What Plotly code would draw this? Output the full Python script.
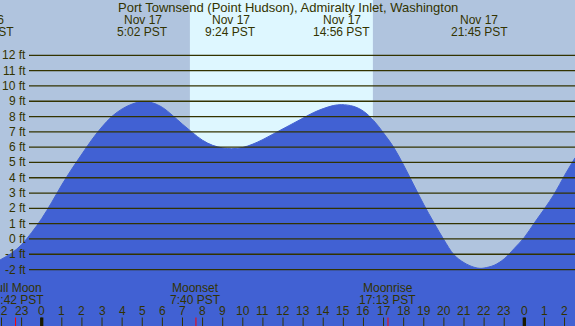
import plotly.graph_objects as go

# ---------------- data ----------------
tide_hours = [-2.07, -1.5, -1.0, -0.5, 0.0, 0.5, 1.0, 1.5, 2.0, 2.5, 3.0, 3.5, 4.0, 4.5, 5.03,
              5.5, 6.0, 6.5, 7.0, 7.5, 8.0, 8.5, 9.0, 9.45, 10.0, 10.5, 11.0, 11.5, 12.0, 12.5,
              13.0, 13.5, 14.0, 14.5, 14.92, 15.5, 16.0, 16.5, 17.0, 17.5, 18.0, 18.5, 19.0,
              19.5, 20.0, 20.5, 21.0, 21.5, 21.79, 22.0, 22.5, 23.0, 23.5, 24.0, 24.5, 25.0,
              25.5, 26.0, 26.52]
tide_feet = [-1.37, -0.93, -0.37, 0.42, 1.33, 2.4, 3.54, 4.58, 5.55, 6.5, 7.33, 8.02, 8.5, 8.82, 8.98,
             8.9, 8.6, 8.08, 7.5, 6.95, 6.45, 6.12, 5.95, 5.9, 5.98, 6.2, 6.5, 6.85, 7.2, 7.55,
             7.9, 8.25, 8.52, 8.72, 8.78, 8.67, 8.35, 7.75, 6.92, 6.0, 4.82, 3.53, 2.25,
             1.07, -0.05, -1.03, -1.55, -1.85, -1.92, -1.9, -1.72, -1.3, -0.62, 0.1, 1.05, 1.97,
             2.96, 4.15, 5.3]

ext_hours = [-2.80, 5.03, 9.40, 14.93, 21.75]
ext_dates = ["Nov 16", "Nov 17", "Nov 17", "Nov 17", "Nov 17"]
ext_times = ["21:12 PST", "5:02 PST", "9:24 PST", "14:56 PST", "21:45 PST"]

moon_hours = [-1.30, 7.67, 17.22]
moon_names = ["Full Moon", "Moonset", "Moonrise"]
moon_times = ["22:42 PST", "7:40 PST", "17:13 PST"]

sunrise_hour = 7.37
sunset_hour = 16.47

ft_levels = list(range(-2, 13))
ft_labels = [f"{v} ft" for v in ft_levels]
hour_ticks = list(range(-2, 27))
hour_labels = [str(h % 24) for h in hour_ticks]
midnight_hours = [0, 24]

title = "Port Townsend (Point Hudson), Admiralty Inlet, Washington"

# ---------------- layout constants ----------------
W, H = 575, 326
X0, X1 = -2.074, 26.52
Y0, Y1 = -5.69, 15.62
NIGHT = "#B0C4DE"
DAY = "#DEF7FF"
WATER = "#4161D3"
INK = "#333300"
FONT = "Liberation Sans, Arial, sans-serif"


def px(h):
    return (h - X0) / (X1 - X0)


def py(pix_from_top):
    return 1 - pix_from_top / H


fig = go.Figure()
fig.add_trace(go.Scatter(x=[X0 - 1, X1 + 1], y=[Y0 - 5, Y0 - 5], mode="lines",
                         line=dict(width=0), hoverinfo="skip", showlegend=False))
fig.add_trace(go.Scatter(x=tide_hours, y=tide_feet, mode="lines", fill="tonexty",
                         fillcolor=WATER, line=dict(color=WATER, width=1, shape="spline", smoothing=1.0),
                         hoverinfo="skip", showlegend=False))

shapes = []
# daylight band
shapes.append(dict(type="rect", xref="x", yref="paper", x0=sunrise_hour, x1=sunset_hour,
                   y0=0, y1=1, fillcolor=DAY, line=dict(width=0), layer="below"))
# level lines
for v in ft_levels:
    shapes.append(dict(type="line", xref="paper", yref="y", x0=29 / W, x1=1, y0=v, y1=v,
                       line=dict(color=INK, width=1.3), layer="above"))
# hour ticks
for h in hour_ticks:
    shapes.append(dict(type="line", xref="x", yref="paper", x0=h, x1=h, y0=0, y1=8.5 / H,
                       line=dict(color=INK, width=1), layer="above"))
for h in midnight_hours:
    shapes.append(dict(type="line", xref="x", yref="paper", x0=h, x1=h, y0=0, y1=8.5 / H,
                       line=dict(color="#1a1a00", width=3.3), layer="above"))
for h in moon_hours:
    shapes.append(dict(type="line", xref="x", yref="paper", x0=h, x1=h, y0=0, y1=8.5 / H,
                       line=dict(color="#FF0000", width=1), layer="above"))

ann = []
tf = dict(family=FONT, size=12, color=INK)
ann.append(dict(text=title, xref="paper", yref="paper", x=0.5, y=py(7.5), xanchor="center",
                yanchor="middle", showarrow=False, font=dict(family=FONT, size=13, color=INK)))
for h, d, t in zip(ext_hours, ext_dates, ext_times):
    ann.append(dict(text=d, xref="paper", yref="paper", x=px(h), y=py(20), xanchor="center",
                    yanchor="middle", showarrow=False, font=tf))
    ann.append(dict(text=t, xref="paper", yref="paper", x=px(h), y=py(32), xanchor="center",
                    yanchor="middle", showarrow=False, font=tf))
for h, n, t in zip(moon_hours, moon_names, moon_times):
    ann.append(dict(text=n, xref="paper", yref="paper", x=px(h), y=py(288), xanchor="center",
                    yanchor="middle", showarrow=False, font=tf))
    ann.append(dict(text=t, xref="paper", yref="paper", x=px(h), y=py(299.5), xanchor="center",
                    yanchor="middle", showarrow=False, font=tf))
for h, lab in zip(hour_ticks, hour_labels):
    ann.append(dict(text=lab, xref="paper", yref="paper", x=px(h), y=py(311), xanchor="center",
                    yanchor="middle", showarrow=False, font=tf))
for v, lab in zip(ft_levels, ft_labels):
    ann.append(dict(text=lab, xref="paper", yref="y", x=27.5 / W, y=v, xanchor="right",
                    yanchor="middle", showarrow=False, font=tf))

fig.update_layout(
    width=W, height=H, margin=dict(l=0, r=0, t=0, b=0),
    paper_bgcolor=NIGHT, plot_bgcolor=NIGHT,
    xaxis=dict(range=[X0, X1], visible=False, fixedrange=True),
    yaxis=dict(range=[Y0, Y1], visible=False, fixedrange=True),
    shapes=shapes, annotations=ann, showlegend=False,
)
fig.write_html("out.html", config={"displayModeBar": False},
               post_script="document.body.style.margin='0';document.body.style.overflow='hidden';")
